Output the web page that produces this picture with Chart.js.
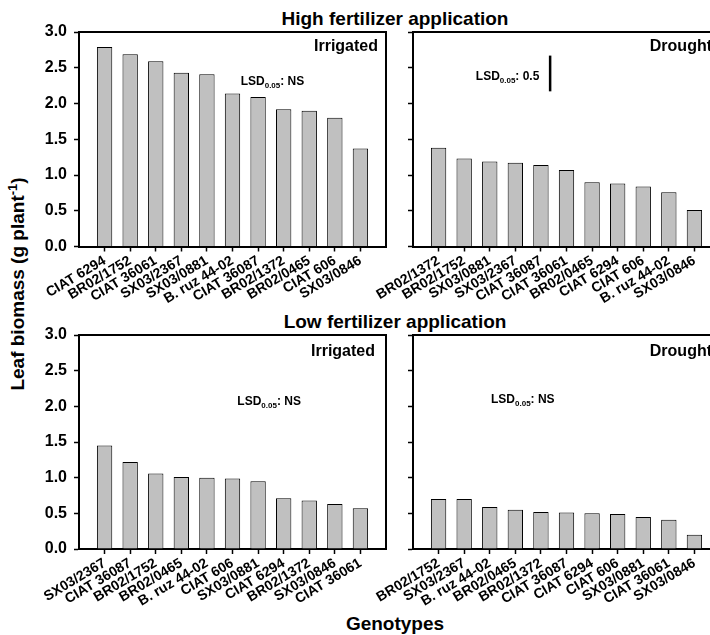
<!DOCTYPE html>
<html>
<head>
<meta charset="utf-8">
<script src="https://cdn.jsdelivr.net/npm/chart.js@4.4.1/dist/chart.umd.min.js"></script>
<style>
  html, body { margin: 0; padding: 0; background: #fff; }
  body { width: 710px; height: 635px; overflow: hidden; position: relative;
         font-family: "Liberation Sans", Arial, sans-serif; color: #000; }
  canvas { position: absolute; }
  .title { position: absolute; font-weight: bold; font-size: 19px; line-height: 19px;
           white-space: nowrap; text-align: center; }
  .ytitle { position: absolute; font-weight: bold; font-size: 19px; line-height: 19px;
            white-space: nowrap; transform: translate(-50%, -50%) rotate(-90deg); left: 17px; top: 284px; }
  .ytitle sup { font-size: 13px; line-height: 0; vertical-align: 7px; }
</style>
</head>
<body>
<div class="title" style="left:195px; width:400px; top:9px;">High fertilizer application</div>
<div class="title" style="left:195px; width:400px; top:312px;">Low fertilizer application</div>
<div class="title" style="left:195px; width:400px; top:614px;">Genotypes</div>
<div class="ytitle">Leaf biomass (g plant<sup>-1</sup>)</div>

<canvas id="cHighIrr" width="400" height="315" style="left:0; top:0;"></canvas>
<canvas id="cHighDry" width="400" height="315" style="left:330px; top:0;"></canvas>
<canvas id="cLowIrr" width="400" height="325" style="left:0; top:310px;"></canvas>
<canvas id="cLowDry" width="400" height="325" style="left:330px; top:310px;"></canvas>

<script>
// Leaf biomass (g plant-1) per genotype, sorted high to low within each treatment

// High fertilizer, irrigated
const genotypesHighIrrigated = ["CIAT 6294", "BR02/1752", "CIAT 36061", "SX03/2367", "SX03/0881",
  "B. ruz 44-02", "CIAT 36087", "BR02/1372", "BR02/0465", "CIAT 606", "SX03/0846"];
const leafHighIrrigated = [2.79, 2.69, 2.59, 2.43, 2.41, 2.14, 2.09, 1.92, 1.90, 1.80, 1.37];

// High fertilizer, drought
const genotypesHighDrought = ["BR02/1372", "BR02/1752", "SX03/0881", "SX03/2367", "CIAT 36087",
  "CIAT 36061", "BR02/0465", "CIAT 6294", "CIAT 606", "B. ruz 44-02", "SX03/0846"];
const leafHighDrought = [1.38, 1.23, 1.19, 1.17, 1.14, 1.07, 0.90, 0.88, 0.84, 0.76, 0.51];

// Low fertilizer, irrigated
const genotypesLowIrrigated = ["SX03/2367", "CIAT 36087", "BR02/1752", "BR02/0465", "B. ruz 44-02",
  "CIAT 606", "SX03/0881", "CIAT 6294", "BR02/1372", "SX03/0846", "CIAT 36061"];
const leafLowIrrigated = [1.45, 1.22, 1.06, 1.01, 1.00, 0.99, 0.95, 0.71, 0.68, 0.63, 0.57];

// Low fertilizer, drought
const genotypesLowDrought = ["BR02/1752", "SX03/2367", "B. ruz 44-02", "BR02/0465", "BR02/1372",
  "CIAT 36087", "CIAT 6294", "CIAT 606", "SX03/0881", "CIAT 36061", "SX03/0846"];
const leafLowDrought = [0.70, 0.70, 0.59, 0.55, 0.52, 0.51, 0.50, 0.49, 0.45, 0.41, 0.20];

// Least significant differences (P = 0.05); null = not significant
const lsdHighIrrigated = null;
const lsdHighDrought = 0.5;
const lsdLowIrrigated = null;
const lsdLowDrought = null;

// Y axis ticks
const yTicks = [0, 0.5, 1.0, 1.5, 2.0, 2.5, 3.0];

const FONT = "'Liberation Sans', Arial, sans-serif";
Chart.defaults.font.family = FONT;
Chart.defaults.color = '#000';

function drawLsdText(ctx, x, y, valueText, align) {
  const parts = [
    { t: 'LSD', f: 'bold 12px ' + FONT, dy: 0 },
    { t: '0.05', f: 'bold 8px ' + FONT, dy: 3 },
    { t: ': ' + valueText, f: 'bold 12px ' + FONT, dy: 0 }
  ];
  let total = 0;
  parts.forEach(p => { ctx.font = p.f; p.w = ctx.measureText(p.t).width; total += p.w; });
  let cx = align === 'right' ? x - total : x;
  ctx.textAlign = 'left';
  ctx.textBaseline = 'alphabetic';
  parts.forEach(p => { ctx.font = p.f; ctx.fillText(p.t, cx, y + p.dy); cx += p.w; });
}

// Frame, treatment tag and LSD annotation
const panelDecor = {
  id: 'panelDecor',
  afterDraw(chart, args, opts) {
    const { ctx, chartArea: a, scales } = chart;
    ctx.save();
    ctx.strokeStyle = '#000';
    ctx.lineWidth = 2;
    ctx.beginPath();
    ctx.moveTo(a.left - 1, a.top);
    ctx.lineTo(a.right, a.top);
    ctx.lineTo(a.right, a.bottom + 1);
    ctx.stroke();

    ctx.fillStyle = '#000';
    ctx.font = 'bold 16px ' + FONT;
    ctx.textAlign = 'right';
    ctx.textBaseline = 'alphabetic';
    ctx.fillText(opts.tag, a.right - opts.tagInset, a.top + opts.tagDrop);

    const tx = scales.x.getPixelForValue(opts.lsdAt[0]);
    const ty = scales.y.getPixelForValue(opts.lsdAt[1]);
    if (opts.lsd === null) {
      drawLsdText(ctx, tx, ty, 'NS', 'left');
    } else {
      drawLsdText(ctx, tx, ty, String(opts.lsd), 'right');
      const bx = scales.x.getPixelForValue(opts.lsdBar[0]);
      const y0 = scales.y.getPixelForValue(opts.lsdBar[1]);
      const y1 = scales.y.getPixelForValue(opts.lsdBar[1] - opts.lsd);
      ctx.lineWidth = 2.5;
      ctx.beginPath();
      ctx.moveTo(bx, y0);
      ctx.lineTo(bx, y1);
      ctx.stroke();
    }
    ctx.restore();
  }
};

function makePanel(canvasId, genotypes, values, cfg) {
  const n = genotypes.length;
  new Chart(document.getElementById(canvasId), {
    type: 'bar',
    data: {
      datasets: [{
        data: values.map((v, i) => ({ x: i, y: v })),
        backgroundColor: '#c0c0c0',
        borderColor: '#000',
        borderWidth: 1,
        borderSkipped: 'start',
        categoryPercentage: 1,
        barPercentage: 0.6
      }]
    },
    options: {
      responsive: false,
      animation: false,
      devicePixelRatio: 1,
      layout: { padding: { left: 0, top: cfg.padTop, right: cfg.padRight, bottom: 0 } },
      plugins: {
        legend: { display: false },
        tooltip: { enabled: false },
        panelDecor: cfg.decor
      },
      scales: {
        x: {
          type: 'linear',
          min: -1,
          max: n,
          offset: false,
          grid: { offset: false, drawOnChartArea: false, drawTicks: true, tickLength: 5,
                  tickColor: '#000', tickWidth: 1.5 },
          border: { display: true, color: '#000', width: 2 },
          afterBuildTicks: s => { s.ticks = genotypes.map((g, i) => ({ value: i })); },
          afterFit: s => { s.height = cfg.xHeight; },
          ticks: {
            autoSkip: false,
            minRotation: 31,
            maxRotation: 31,
            padding: 1,
            font: { size: 14, weight: 'bold' },
            color: '#000',
            callback: v => genotypes[v]
          }
        },
        y: {
          min: 0,
          max: 3,
          grid: { drawOnChartArea: false, drawTicks: true, tickLength: 5,
                  tickColor: '#000', tickWidth: 1.5 },
          border: { display: true, color: '#000', width: 2 },
          afterBuildTicks: s => { s.ticks = yTicks.map(v => ({ value: v })); },
          afterFit: s => { s.width = cfg.yWidth; },
          ticks: {
            display: cfg.yLabels,
            padding: 7,
            font: { size: 16, weight: 'bold' },
            color: '#000',
            callback: v => Number(v).toFixed(1)
          }
        }
      }
    },
    plugins: [panelDecor]
  });
}

makePanel('cHighIrr', genotypesHighIrrigated, leafHighIrrigated, {
  padTop: 32, padRight: 14, yWidth: 79, xHeight: 68.5, yLabels: true,
  decor: { tag: 'Irrigated', tagInset: 8, tagDrop: 19, lsd: lsdHighIrrigated, lsdAt: [5.32, 2.26] }
});
makePanel('cHighDry', genotypesHighDrought, leafHighDrought, {
  padTop: 32, padRight: 10, yWidth: 83, xHeight: 68.5, yLabels: false,
  decor: { tag: 'Drought', tagInset: 8, tagDrop: 19, lsd: lsdHighDrought, lsdAt: [3.94, 2.33], lsdBar: [4.36, 2.67] }
});
makePanel('cLowIrr', genotypesLowIrrigated, leafLowIrrigated, {
  padTop: 25, padRight: 14, yWidth: 79, xHeight: 86, yLabels: true,
  decor: { tag: 'Irrigated', tagInset: 11, tagDrop: 21, lsd: lsdLowIrrigated, lsdAt: [5.19, 2.02] }
});
makePanel('cLowDry', genotypesLowDrought, leafLowDrought, {
  padTop: 25, padRight: 10, yWidth: 83, xHeight: 86, yLabels: false,
  decor: { tag: 'Drought', tagInset: 8, tagDrop: 21, lsd: lsdLowDrought, lsdAt: [2.05, 2.04] }
});
</script>
</body>
</html>
